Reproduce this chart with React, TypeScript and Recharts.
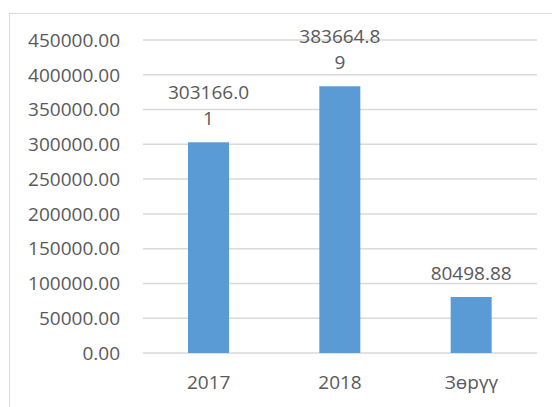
import { BarChart, Bar, XAxis, YAxis, CartesianGrid, LabelList } from "recharts";

const categories = ["2017", "2018", "Зөрүү"];
const values = [303166.01, 383664.89, 80498.88];
const yTicks = [0, 50000, 100000, 150000, 200000, 250000, 300000, 350000, 400000, 450000];

const data = categories.map((name, i) => ({ name, value: values[i] }));

const FONT = "'Open Sans', 'Noto Sans', sans-serif";
const TEXT = "#595959";
const GRID = "#d9d9d9";

// Excel wraps the data label after 8 characters
function WrappedLabel(props: any) {
  const { x, y, width, value } = props;
  const s = Number(value).toFixed(2);
  const lines: string[] = [];
  for (let i = 0; i < s.length; i += 8) lines.push(s.slice(i, i + 8));
  const cx = x + width / 2;
  return (
    <text x={cx} textAnchor="middle" fill={TEXT} fontSize={19} fontFamily={FONT}>
      {lines.map((ln, i) => (
        <tspan key={i} x={cx} y={y - 17 - (lines.length - 1 - i) * 26}>
          {ln}
        </tspan>
      ))}
    </text>
  );
}

export default function App() {
  return (
    <div style={{ position: "absolute", left: 0, top: 0, width: 552, height: 407, background: "#fff", overflow: "hidden" }}>
      <div
        style={{
          position: "absolute",
          left: 9,
          top: 13,
          width: 600,
          height: 420,
          borderTop: `1px solid ${GRID}`,
          borderLeft: `1px solid ${GRID}`,
        }}
      />
      <BarChart
        width={552}
        height={407}
        data={data}
        margin={{ top: 40, right: 15, left: 0, bottom: 24 }}
        style={{ position: "absolute", left: 0, top: 0 }}
      >
        <CartesianGrid vertical={false} stroke={GRID} strokeWidth={1.5} />
        <XAxis
          dataKey="name"
          height={30}
          axisLine={false}
          tickLine={false}
          tickMargin={17}
          tick={{ fill: TEXT, fontSize: 19, fontFamily: FONT }}
        />
        <YAxis
          width={143}
          domain={[0, 450000]}
          ticks={yTicks}
          interval={0}
          axisLine={false}
          tickLine={false}
          tickMargin={17}
          tickFormatter={(v: number) => v.toFixed(2)}
          tick={{ fill: TEXT, fontSize: 19, fontFamily: FONT }}
        />
        <Bar dataKey="value" fill="#5b9bd5" barSize={41} isAnimationActive={false}>
          <LabelList dataKey="value" content={WrappedLabel} />
        </Bar>
      </BarChart>
    </div>
  );
}
